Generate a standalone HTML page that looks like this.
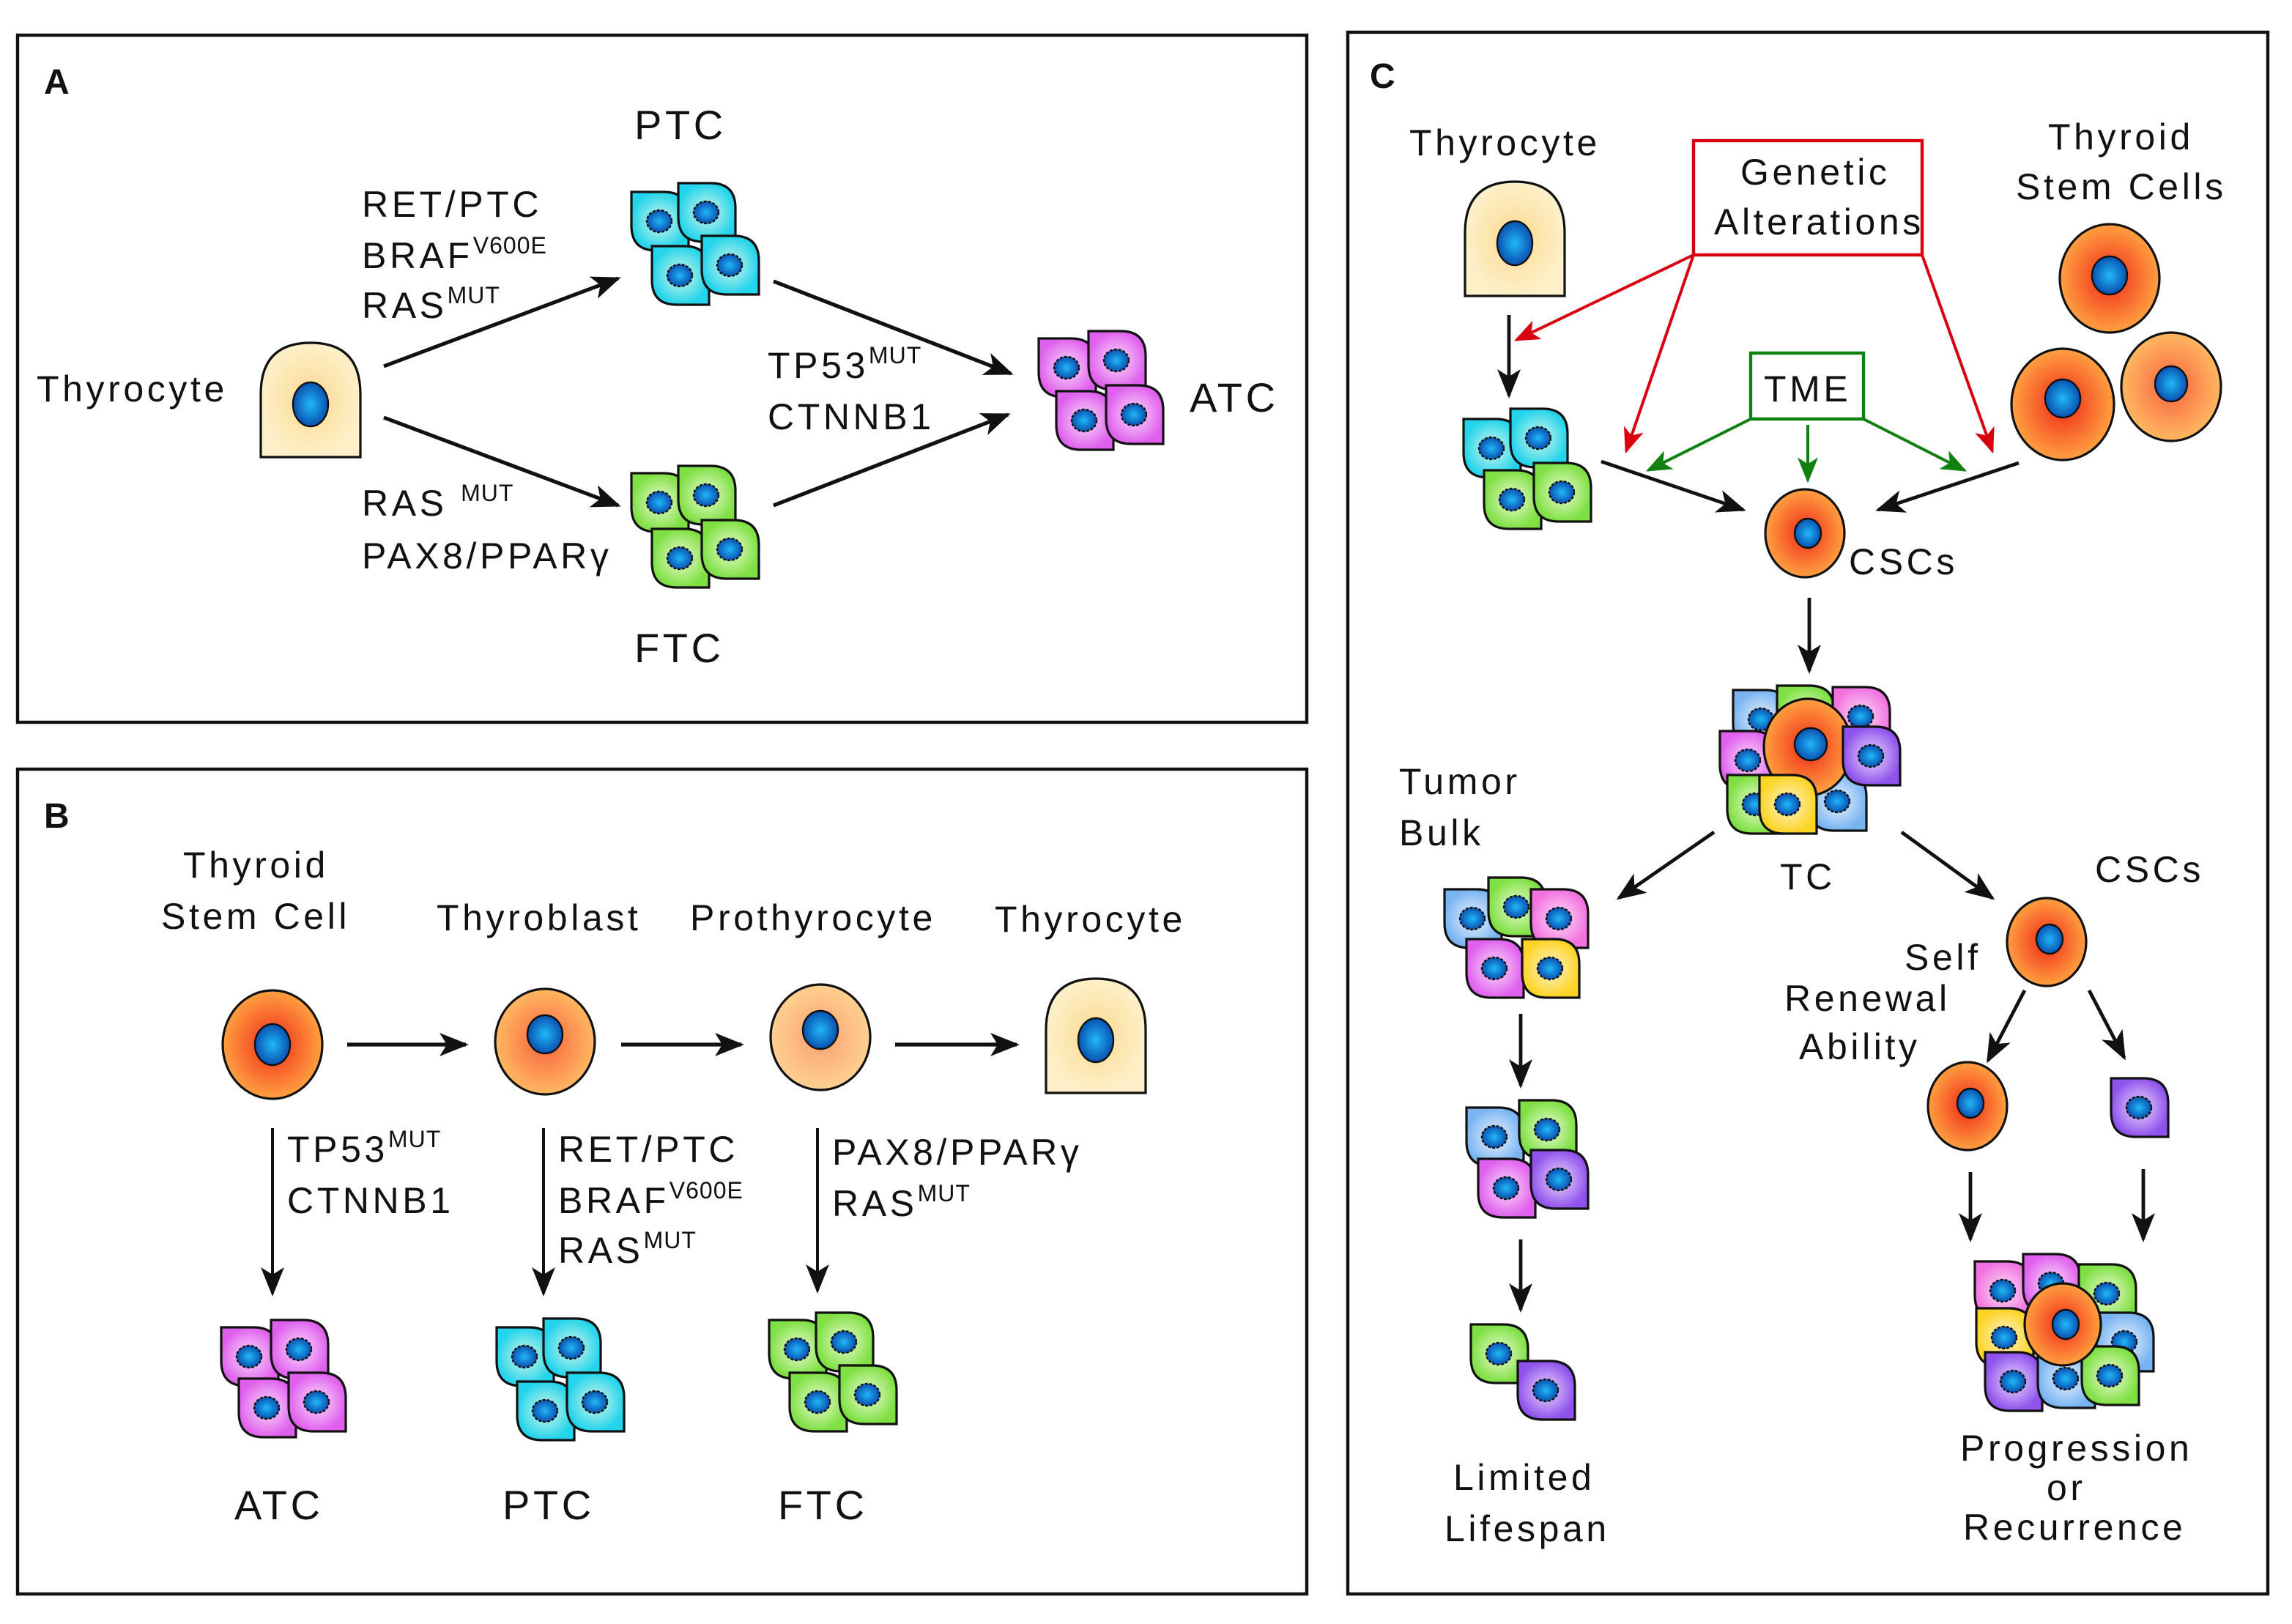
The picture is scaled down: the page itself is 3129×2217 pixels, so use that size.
<!DOCTYPE html>
<html><head><meta charset="utf-8"><style>
html,body{margin:0;padding:0;background:#fff}
svg{display:block}
text{font-family:"Liberation Sans",sans-serif;fill:#111;letter-spacing:2.3px}
tspan{letter-spacing:0.5px}
</style></head><body>
<svg width="3129" height="2217" viewBox="0 0 1564.5 1108.5" xmlns="http://www.w3.org/2000/svg">
<defs>
<radialGradient id="gc"><stop offset="0" stop-color="#d8f8e8"/><stop offset="1" stop-color="#22d4ec"/></radialGradient>
<radialGradient id="gg"><stop offset="0" stop-color="#f0fcd8"/><stop offset="1" stop-color="#7ee042"/></radialGradient>
<radialGradient id="gm"><stop offset="0" stop-color="#fbe0fb"/><stop offset="1" stop-color="#e060ee"/></radialGradient>
<radialGradient id="gb"><stop offset="0" stop-color="#eef4fe"/><stop offset="1" stop-color="#78b4f2"/></radialGradient>
<radialGradient id="gp"><stop offset="0" stop-color="#ecdcfe"/><stop offset="1" stop-color="#9052ec"/></radialGradient>
<radialGradient id="gy"><stop offset="0" stop-color="#fff4d0"/><stop offset="1" stop-color="#fcd424"/></radialGradient>
<radialGradient id="gk"><stop offset="0" stop-color="#fde0f8"/><stop offset="1" stop-color="#f272e0"/></radialGradient>
<radialGradient id="gs"><stop offset="0" stop-color="#f02818"/><stop offset="1" stop-color="#ffa040"/></radialGradient>
<radialGradient id="gs2"><stop offset="0" stop-color="#f86040"/><stop offset="1" stop-color="#ffb860"/></radialGradient>
<radialGradient id="gs3"><stop offset="0" stop-color="#f8a070"/><stop offset="1" stop-color="#ffd090"/></radialGradient>
<radialGradient id="gt"><stop offset="0" stop-color="#fcd890"/><stop offset="1" stop-color="#fdf0c8"/></radialGradient>
<radialGradient id="gn"><stop offset="0" stop-color="#20b8f8"/><stop offset="1" stop-color="#0a50b0"/></radialGradient>
<g id="cell"><path d="M1,1 H23 Q40,1 40,18 V41 H18 Q1,41 1,24 Z" stroke="#111" stroke-width="1.6"/><ellipse cx="20" cy="21" rx="8.5" ry="7.5" fill="url(#gn)" stroke="#111" stroke-width="1.2" stroke-dasharray="2 1"/></g>
<g id="thy"><path d="M-34,38 V-5 Q-34,-40 0,-40 Q34,-40 34,-5 V38 Z" fill="url(#gt)" stroke="#111" stroke-width="1.6"/><ellipse cx="0" cy="2" rx="12" ry="15" fill="url(#gn)" stroke="#111" stroke-width="1.2"/></g>
<marker id="ak" viewBox="0 0 20 16" refX="18" refY="8" markerWidth="20" markerHeight="16" markerUnits="userSpaceOnUse" orient="auto"><path d="M0,0 L20,8 L0,16 L5,8 Z" fill="#111"/></marker>
<marker id="ar" viewBox="0 0 20 16" refX="18" refY="8" markerWidth="18" markerHeight="14" markerUnits="userSpaceOnUse" orient="auto"><path d="M0,0 L20,8 L0,16 L5,8 Z" fill="#d80010"/></marker>
<marker id="ag" viewBox="0 0 20 16" refX="18" refY="8" markerWidth="18" markerHeight="14" markerUnits="userSpaceOnUse" orient="auto"><path d="M0,0 L20,8 L0,16 L5,8 Z" fill="#108010"/></marker>
</defs>
<g fill="none" stroke="#111" stroke-width="2.2">
<rect x="12" y="24" width="880" height="469"/>
<rect x="12" y="525" width="880" height="563"/>
<rect x="920" y="22" width="628" height="1066"/>
</g>
<!-- Panel A -->
<text x="30" y="64" font-size="24" font-weight="bold">A</text>
<text x="433" y="95" font-size="28">PTC</text>
<text x="247" y="148" font-size="25">RET/PTC</text>
<text x="247" y="183" font-size="25">BRAF<tspan dy="-10" font-size="16">V600E</tspan></text>
<text x="247" y="217" font-size="25">RAS<tspan dy="-10" font-size="16">MUT</tspan></text>
<text x="25" y="274" font-size="25">Thyrocyte</text>
<use href="#thy" transform="translate(212,274)"/>
<text x="247" y="352" font-size="25">RAS <tspan dy="-10" font-size="16">MUT</tspan></text>
<text x="247" y="388" font-size="25">PAX8/PPARγ</text>
<text x="433" y="452" font-size="28">FTC</text>
<text x="524" y="258" font-size="25">TP53<tspan dy="-10" font-size="16">MUT</tspan></text>
<text x="524" y="293" font-size="25">CTNNB1</text>
<text x="812" y="281" font-size="28">ATC</text>
<g stroke="#111" stroke-width="2.6" marker-end="url(#ak)">
<line x1="262" y1="250" x2="422" y2="190"/>
<line x1="262" y1="285" x2="422" y2="345"/>
<line x1="528" y1="192" x2="690" y2="255"/>
<line x1="528" y1="345" x2="688" y2="283"/>
</g>
<g fill="url(#gc)"><use href="#cell" x="430" y="130"/><use href="#cell" x="462" y="124"/><use href="#cell" x="444" y="167"/><use href="#cell" x="478" y="160"/></g>
<g fill="url(#gg)"><use href="#cell" x="430" y="322"/><use href="#cell" x="462" y="317"/><use href="#cell" x="444" y="360"/><use href="#cell" x="478" y="354"/></g>
<g fill="url(#gm)"><use href="#cell" x="708" y="230"/><use href="#cell" x="742" y="225"/><use href="#cell" x="720" y="266"/><use href="#cell" x="754" y="262"/></g>
<!-- Panel B -->
<text x="30" y="565" font-size="24" font-weight="bold">B</text>
<text x="125" y="599" font-size="25">Thyroid</text>
<text x="110" y="634" font-size="25">Stem Cell</text>
<text x="298" y="635" font-size="25">Thyroblast</text>
<text x="471" y="635" font-size="25">Prothyrocyte</text>
<text x="679" y="636" font-size="25">Thyrocyte</text>
<g stroke="#111" stroke-width="1.6">
<ellipse cx="186" cy="713" rx="34" ry="37" fill="url(#gs)"/>
<ellipse cx="372" cy="711" rx="34" ry="36" fill="url(#gs2)"/>
<ellipse cx="560" cy="708" rx="34" ry="36" fill="url(#gs3)"/>
<g fill="url(#gn)" stroke-width="1.2"><ellipse cx="186" cy="713" rx="12" ry="14"/><ellipse cx="372" cy="706" rx="12" ry="13"/><ellipse cx="560" cy="703" rx="12" ry="13"/></g>
</g>
<use href="#thy" transform="translate(748,708)"/>
<g stroke="#111" stroke-width="2.6" marker-end="url(#ak)">
<line x1="237" y1="713" x2="318" y2="713"/>
<line x1="424" y1="713" x2="506" y2="713"/>
<line x1="611" y1="713" x2="694" y2="713"/>
</g>
<g stroke="#111" stroke-width="2" marker-end="url(#ak)">
<line x1="186" y1="770" x2="186" y2="883"/>
<line x1="371" y1="770" x2="371" y2="883"/>
<line x1="558" y1="770" x2="558" y2="881"/>
</g>
<text x="196" y="793" font-size="25">TP53<tspan dy="-10" font-size="16">MUT</tspan></text>
<text x="196" y="828" font-size="25">CTNNB1</text>
<text x="381" y="793" font-size="25">RET/PTC</text>
<text x="381" y="828" font-size="25">BRAF<tspan dy="-10" font-size="16">V600E</tspan></text>
<text x="381" y="862" font-size="25">RAS<tspan dy="-10" font-size="16">MUT</tspan></text>
<text x="568" y="795" font-size="25">PAX8/PPARγ</text>
<text x="568" y="830" font-size="25">RAS<tspan dy="-10" font-size="16">MUT</tspan></text>
<g fill="url(#gm)"><use href="#cell" x="150" y="905"/><use href="#cell" x="184" y="900"/><use href="#cell" x="162" y="940"/><use href="#cell" x="196" y="936"/></g>
<g fill="url(#gc)"><use href="#cell" x="338" y="905"/><use href="#cell" x="370" y="899"/><use href="#cell" x="352" y="942"/><use href="#cell" x="386" y="936"/></g>
<g fill="url(#gg)"><use href="#cell" x="524" y="900"/><use href="#cell" x="556" y="895"/><use href="#cell" x="538" y="936"/><use href="#cell" x="572" y="931"/></g>
<text x="160" y="1037" font-size="28">ATC</text>
<text x="343" y="1037" font-size="28">PTC</text>
<text x="531" y="1037" font-size="28">FTC</text>
<!-- Panel C -->
<text x="935" y="60" font-size="24" font-weight="bold">C</text>
<text x="962" y="106" font-size="25">Thyrocyte</text>
<use href="#thy" transform="translate(1034,164)"/>
<rect x="1156" y="96" width="156" height="78" fill="none" stroke="#d80010" stroke-width="2.2"/>
<text x="1188" y="126" font-size="25">Genetic</text>
<text x="1170" y="160" font-size="25">Alterations</text>
<text x="1398" y="102" font-size="25">Thyroid</text>
<text x="1376" y="136" font-size="25">Stem Cells</text>
<g stroke="#111" stroke-width="1.6">
<ellipse cx="1440" cy="190" rx="34" ry="37" fill="url(#gs)"/>
<ellipse cx="1408" cy="276" rx="35" ry="38" fill="url(#gs)"/>
<ellipse cx="1482" cy="264" rx="34" ry="37" fill="url(#gs2)"/>
<ellipse cx="1232" cy="364" rx="27" ry="30" fill="url(#gs)"/>
<ellipse cx="1397" cy="643" rx="27" ry="30" fill="url(#gs)"/>
<ellipse cx="1343" cy="755" rx="27" ry="30" fill="url(#gs)"/>
<g fill="url(#gn)" stroke-width="1.2"><ellipse cx="1440" cy="188" rx="12" ry="13"/><ellipse cx="1408" cy="272" rx="12" ry="13"/><ellipse cx="1482" cy="262" rx="11" ry="12"/><ellipse cx="1234" cy="364" rx="9" ry="10"/><ellipse cx="1399" cy="641" rx="9" ry="10"/><ellipse cx="1345" cy="753" rx="9" ry="10"/></g>
</g>
<rect x="1195" y="241" width="77" height="45" fill="none" stroke="#108010" stroke-width="2.2"/>
<text x="1204" y="274" font-size="25">TME</text>
<g stroke="#d80010" stroke-width="2" marker-end="url(#ar)">
<line x1="1156" y1="174" x2="1035" y2="232"/>
<line x1="1156" y1="174" x2="1110" y2="308"/>
<line x1="1312" y1="174" x2="1360" y2="308"/>
</g>
<g stroke="#108010" stroke-width="2" marker-end="url(#ag)">
<line x1="1195" y1="286" x2="1125" y2="321"/>
<line x1="1234" y1="290" x2="1234" y2="328"/>
<line x1="1272" y1="286" x2="1341" y2="321"/>
</g>
<g stroke="#111" stroke-width="2.4" marker-end="url(#ak)">
<line x1="1030" y1="215" x2="1030" y2="270"/>
<line x1="1093" y1="315" x2="1190" y2="348"/>
<line x1="1378" y1="316" x2="1282" y2="348"/>
<line x1="1235" y1="408" x2="1235" y2="458"/>
<line x1="1170" y1="568" x2="1105" y2="613"/>
<line x1="1298" y1="568" x2="1360" y2="613"/>
<line x1="1382" y1="676" x2="1357" y2="724"/>
<line x1="1426" y1="676" x2="1450" y2="722"/>
<line x1="1345" y1="800" x2="1345" y2="846"/>
<line x1="1463" y1="798" x2="1463" y2="846"/>
<line x1="1038" y1="692" x2="1038" y2="741"/>
<line x1="1038" y1="846" x2="1038" y2="894"/>
</g>
<g><use href="#cell" x="998" y="285" fill="url(#gc)"/><use href="#cell" x="1030" y="278" fill="url(#gc)"/><use href="#cell" x="1012" y="320" fill="url(#gg)"/><use href="#cell" x="1046" y="315" fill="url(#gg)"/></g>
<text x="1262" y="392" font-size="25">CSCs</text>
<g>
<use href="#cell" x="1182" y="470" fill="url(#gb)"/>
<use href="#cell" x="1212" y="467" fill="url(#gg)"/>
<use href="#cell" x="1250" y="468" fill="url(#gk)"/>
<use href="#cell" x="1173" y="498" fill="url(#gm)"/>
<use href="#cell" x="1178" y="528" fill="url(#gg)"/>
<use href="#cell" x="1234" y="526" fill="url(#gb)"/>
<ellipse cx="1234" cy="510" rx="30" ry="33" fill="url(#gs)" stroke="#111" stroke-width="1.6"/>
<ellipse cx="1236" cy="508" rx="11" ry="11" fill="url(#gn)" stroke="#111" stroke-width="1.2"/>
<use href="#cell" x="1257" y="495" fill="url(#gp)"/>
<use href="#cell" x="1200" y="528" fill="url(#gy)"/>
</g>
<text x="1215" y="607" font-size="25">TC</text>
<text x="955" y="542" font-size="25">Tumor</text>
<text x="955" y="577" font-size="25">Bulk</text>
<text x="1430" y="602" font-size="25">CSCs</text>
<text x="1300" y="662" font-size="25">Self</text>
<text x="1218" y="690" font-size="25">Renewal</text>
<text x="1228" y="723" font-size="25">Ability</text>
<use href="#cell" x="1440" y="735" fill="url(#gp)"/>
<g>
<use href="#cell" x="985" y="606" fill="url(#gb)"/><use href="#cell" x="1015" y="598" fill="url(#gg)"/><use href="#cell" x="1044" y="606" fill="url(#gk)"/>
<use href="#cell" x="1000" y="640" fill="url(#gm)"/><use href="#cell" x="1038" y="640" fill="url(#gy)"/>
</g>
<g>
<use href="#cell" x="1000" y="755" fill="url(#gb)"/><use href="#cell" x="1036" y="750" fill="url(#gg)"/>
<use href="#cell" x="1008" y="790" fill="url(#gm)"/><use href="#cell" x="1044" y="784" fill="url(#gp)"/>
</g>
<g><use href="#cell" x="1003" y="903" fill="url(#gg)"/><use href="#cell" x="1035" y="928" fill="url(#gp)"/></g>
<text x="992" y="1017" font-size="25">Limited</text>
<text x="986" y="1052" font-size="25">Lifespan</text>
<g>
<use href="#cell" x="1347" y="860" fill="url(#gk)"/><use href="#cell" x="1380" y="855" fill="url(#gm)"/><use href="#cell" x="1418" y="862" fill="url(#gg)"/>
<use href="#cell" x="1348" y="892" fill="url(#gy)"/><use href="#cell" x="1430" y="895" fill="url(#gb)"/>
<use href="#cell" x="1354" y="922" fill="url(#gp)"/><use href="#cell" x="1390" y="920" fill="url(#gb)"/><use href="#cell" x="1420" y="918" fill="url(#gg)"/>
<ellipse cx="1408" cy="904" rx="26" ry="28" fill="url(#gs)" stroke="#111" stroke-width="1.6"/>
<ellipse cx="1410" cy="904" rx="9" ry="10" fill="url(#gn)" stroke="#111" stroke-width="1.2"/>
</g>
<text x="1338" y="997" font-size="25">Progression</text>
<text x="1397" y="1024" font-size="25">or</text>
<text x="1340" y="1051" font-size="25">Recurrence</text>
</svg>
</body></html>
